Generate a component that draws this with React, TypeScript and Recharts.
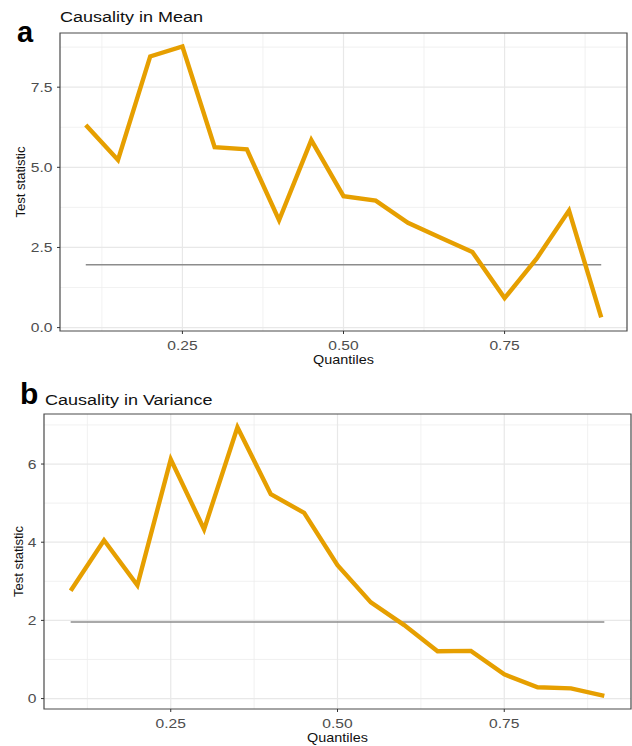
import React from 'react';
import { LineChart, Line, XAxis, YAxis, CartesianGrid, ReferenceArea, Label } from 'recharts';

// Quantile grid and test statistics for the two causality tests
const quantiles = [0.1, 0.15, 0.2, 0.25, 0.3, 0.35, 0.4, 0.45, 0.5, 0.55, 0.6, 0.65, 0.7, 0.75, 0.8, 0.85, 0.9];
const meanStat = [6.32, 5.23, 8.46, 8.77, 5.63, 5.56, 3.35, 5.85, 4.1, 3.96, 3.27, 2.81, 2.36, 0.92, 2.16, 3.65, 0.32];
const varianceStat = [2.76, 4.05, 2.9, 6.12, 4.33, 6.94, 5.23, 4.75, 3.41, 2.46, 1.88, 1.21, 1.22, 0.62, 0.29, 0.26, 0.07];
const criticalValue = 1.96;

// Axis breaks
const xTicks = [0.25, 0.5, 0.75];
const xMinor = [0.125, 0.375, 0.625, 0.875];
const meanYTicks = [0, 2.5, 5, 7.5];
const meanYMinor = [1.25, 3.75, 6.25, 8.75];
const varYTicks = [0, 2, 4, 6];
const varYMinor = [1, 3, 5, 7];

const FONT = '"Liberation Sans", Arial, sans-serif';
const SX = 1.2;
const ORANGE = '#E69F00';

type PanelProps = {
  top: number;
  height: number;
  stats: number[];
  yTicks: number[];
  yMinor: number[];
  yDomain: [number, number];
  yFmt: (v: number) => string;
  margin: { top: number; right: number; left: number; bottom: number };
  yAxisWidth: number;
  xAxisHeight: number;
  yTitleX: number;
};

const Panel = (p: PanelProps) => {
  const data = quantiles.map((q, i) => ({ q, stat: p.stats[i], crit: criticalValue }));
  const plotTop = p.margin.top;
  const plotBottom = p.height - p.margin.bottom - p.xAxisHeight;
  const plotLeft = p.margin.left + p.yAxisWidth;
  const plotRight = 632 - p.margin.right;
  const cx = (plotLeft + plotRight) / 2;
  const cy = (plotTop + plotBottom) / 2;

  const XTick = (t: any) => (
    <text
      transform={`translate(${t.x},${plotBottom + 18.5}) scale(${SX},1)`}
      textAnchor="middle"
      fontSize={13}
      fill="#4d4d4d"
      fontFamily={FONT}
    >
      {Number(t.payload.value).toFixed(2)}
    </text>
  );
  const YTick = (t: any) => (
    <text
      transform={`translate(${plotLeft - 7.5},${t.y + 4.6}) scale(${SX},1)`}
      textAnchor="end"
      fontSize={13}
      fill="#4d4d4d"
      fontFamily={FONT}
    >
      {p.yFmt(Number(t.payload.value))}
    </text>
  );

  return (
    <div style={{ position: 'absolute', left: 0, top: p.top }}>
      <LineChart width={632} height={p.height} data={data} margin={p.margin}>
        <CartesianGrid
          horizontalValues={p.yMinor}
          verticalValues={xMinor}
          stroke="#ededed"
          strokeWidth={0.8}
        />
        <CartesianGrid
          horizontalValues={p.yTicks}
          verticalValues={xTicks}
          stroke="#e8e8e8"
          strokeWidth={1.2}
        />
        <XAxis
          dataKey="q"
          type="number"
          domain={[0.06, 0.94]}
          allowDataOverflow
          ticks={xTicks}
          height={p.xAxisHeight}
          axisLine={false}
          tickLine={{ stroke: '#333333', strokeWidth: 1 }}
          tickSize={3}
          tick={XTick}
          interval={0}
        >
          <Label
            content={() => (
              <text
                transform={`translate(${cx},${plotBottom + 33}) scale(${SX},1)`}
                textAnchor="middle"
                fontSize={12}
                fill="#111"
                fontFamily={FONT}
              >
                Quantiles
              </text>
            )}
          />
        </XAxis>
        <YAxis
          type="number"
          domain={p.yDomain}
          allowDataOverflow
          ticks={p.yTicks}
          width={p.yAxisWidth}
          axisLine={false}
          tickLine={{ stroke: '#333333', strokeWidth: 1 }}
          tickSize={3}
          tick={YTick}
          interval={0}
        >
          <Label
            content={() => (
              <text
                transform={`translate(${p.yTitleX},${cy}) rotate(-90)`}
                textAnchor="middle"
                fontSize={13}
                fill="#111"
                fontFamily={FONT}
              >
                Test statistic
              </text>
            )}
          />
        </YAxis>
        <ReferenceArea
          x1={0.06}
          x2={0.94}
          y1={p.yDomain[0]}
          y2={p.yDomain[1]}
          fill="none"
          fillOpacity={0}
          stroke="#4a4a4a"
          strokeWidth={1.2}
          ifOverflow="visible"
        />
        <Line
          dataKey="crit"
          stroke="#8c8c8c"
          strokeWidth={1.6}
          dot={false}
          activeDot={false}
          isAnimationActive={false}
          type="linear"
        />
        <Line
          dataKey="stat"
          stroke={ORANGE}
          strokeWidth={4.4}
          strokeLinejoin="miter"
          strokeLinecap="butt"
          dot={false}
          activeDot={false}
          isAnimationActive={false}
          type="linear"
        />
      </LineChart>
    </div>
  );
};

export default function App() {
  return (
    <div
      style={{
        position: 'absolute',
        left: 0,
        top: 0,
        width: 632,
        height: 746,
        background: '#ffffff',
        overflow: 'hidden',
      }}
    >
      <Panel
        top={0}
        height={370}
        stats={meanStat}
        yTicks={meanYTicks}
        yMinor={meanYMinor}
        yDomain={[-0.106, 9.19]}
        yFmt={(v) => v.toFixed(1)}
        margin={{ top: 33, right: 5, left: 0, bottom: 0 }}
        yAxisWidth={60}
        xAxisHeight={39}
        yTitleX={24.5}
      />
      <Panel
        top={376}
        height={370}
        stats={varianceStat}
        yTicks={varYTicks}
        yMinor={varYMinor}
        yDomain={[-0.267, 7.28]}
        yFmt={(v) => String(v)}
        margin={{ top: 38, right: 1, left: 0, bottom: 0 }}
        yAxisWidth={44}
        xAxisHeight={37}
        yTitleX={23}
      />
      <svg
        width={632}
        height={746}
        style={{ position: 'absolute', left: 0, top: 0, pointerEvents: 'none' }}
      >
        <text x={17} y={42} fontSize={29} fontWeight="bold" fontFamily={FONT} fill="#000">
          a
        </text>
        <text transform={`translate(60,22) scale(${SX},1)`} fontSize={15} fontFamily={FONT} fill="#111">
          Causality in Mean
        </text>
        <text x={20} y={404} fontSize={30} fontWeight="bold" fontFamily={FONT} fill="#000">
          b
        </text>
        <text transform={`translate(45,405) scale(${SX},1)`} fontSize={15} fontFamily={FONT} fill="#111">
          Causality in Variance
        </text>
      </svg>
    </div>
  );
}
